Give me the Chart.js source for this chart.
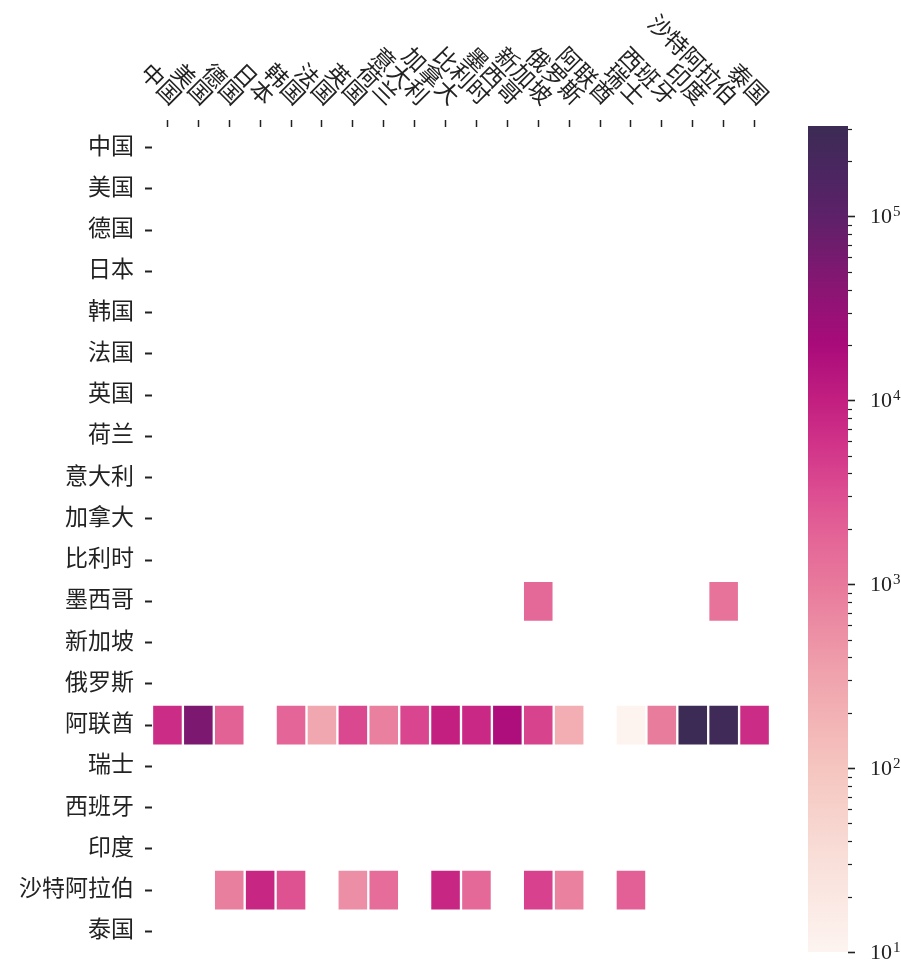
<!DOCTYPE html>
<html>
<head>
<meta charset="utf-8">
<script src="https://cdn.jsdelivr.net/npm/chart.js@4.4.0/dist/chart.umd.min.js"></script>
<style>
  html, body { margin: 0; padding: 0; background: #fff; }
  #wrap { position: relative; width: 901px; height: 964px; }
  #wrap canvas { position: absolute; left: 0; top: 0; }
</style>
</head>
<body>
<div id="wrap">
  <canvas id="heat" width="901" height="964"></canvas>
  <canvas id="cbar" width="901" height="964"></canvas>
</div>
<script>
// Countries used for both axes (rows = exporter, columns = partner)
const countries = ['中国', '美国', '德国', '日本', '韩国', '法国', '英国', '荷兰', '意大利', '加拿大',
  '比利时', '墨西哥', '新加坡', '俄罗斯', '阿联酋', '瑞士', '西班牙', '印度', '沙特阿拉伯', '泰国'];

// Row values by partner column; null = no flow recorded
const mexicoRow = [null, null, null, null, null, null, null, null, null, null,
  null, null, 1600, null, null, null, null, null, 1200, null];
const uaeRow = [7000, 52000, 1900, null, 1800, 280, 3500, 830, 3800, 10000,
  7500, 18000, 4000, 220, null, 10, 930, 310000, 265000, 7000];
const saudiRow = [null, null, 850, 8300, 2800, null, 560, 1400, null, 8300,
  1600, null, 4200, 800, null, 2000, null, null, null, null];

// Colour bar major tick exponents (10^k)
const colorbarExponents = [1, 2, 3, 4, 5];

const filledRows = [['墨西哥', mexicoRow], ['阿联酋', uaeRow], ['沙特阿拉伯', saudiRow]];

const allValues = filledRows.flatMap(([, r]) => r).filter(v => v != null);
const vmin = Math.min(...allValues);
const vmax = Math.max(...allValues);
const lmin = Math.log10(vmin), lmax = Math.log10(vmax);

// Sequential colour map, positions as fraction of the log range
const cmapStops = [
  [0.000, '#fdf4f0'], [0.111, '#f9dfd9'], [0.223, '#f5c5bf'], [0.334, '#f0a3ad'],
  [0.445, '#e8799c'], [0.501, '#e46597'], [0.557, '#dc4d91'], [0.612, '#d13489'],
  [0.668, '#c21f80'], [0.735, '#a90b7a'], [0.802, '#8a1573'], [0.891, '#5d2169'],
  [0.947, '#4a2660'], [1.000, '#3c2b54']
];

function hexToRgb(h) {
  const n = parseInt(h.slice(1), 16);
  return [(n >> 16) & 255, (n >> 8) & 255, n & 255];
}
function colorFor(v) {
  let t = (Math.log10(v) - lmin) / (lmax - lmin);
  t = Math.max(0, Math.min(1, t));
  for (let i = 1; i < cmapStops.length; i++) {
    const [t1, c1] = cmapStops[i];
    const [t0, c0] = cmapStops[i - 1];
    if (t <= t1) {
      const f = (t - t0) / (t1 - t0 || 1);
      const a = hexToRgb(c0), b = hexToRgb(c1);
      const m = a.map((x, k) => Math.round(x + (b[k] - x) * f));
      return `rgb(${m[0]},${m[1]},${m[2]})`;
    }
  }
  return cmapStops[cmapStops.length - 1][1];
}

const serifFamily = '"Liberation Serif", "DejaVu Serif", "Noto Sans CJK SC", serif';
Chart.defaults.font.family = serifFamily;
Chart.defaults.color = '#222';

// Heat map cells: one floating-bar dataset per row, spanning [row, row + 1]
const heatDatasets = filledRows.map(([name, vals]) => {
  const r = countries.indexOf(name);
  return {
    label: name,
    data: vals.map(v => (v == null ? null : [r, r + 1])),
    backgroundColor: vals.map(v => (v == null ? 'rgba(0,0,0,0)' : colorFor(v))),
    borderColor: '#ffffff',
    borderWidth: 1.5,
    borderSkipped: false,
    grouped: false,
    barPercentage: 1,
    categoryPercentage: 1
  };
});

// Rotated column labels above the top axis
const topLabels = {
  id: 'topLabels',
  afterDraw(chart) {
    const { ctx } = chart;
    const x = chart.scales.x;
    ctx.save();
    ctx.font = '23px ' + serifFamily;
    ctx.fillStyle = '#222';
    ctx.textAlign = 'right';
    ctx.textBaseline = 'bottom';
    countries.forEach((name, i) => {
      const px = x.getPixelForTick(i);
      ctx.save();
      ctx.translate(px, x.top - 10);
      ctx.rotate(Math.PI / 4);
      ctx.fillText(name, 0, 0);
      ctx.restore();
    });
    ctx.restore();
  }
};

new Chart(document.getElementById('heat'), {
  type: 'bar',
  data: { labels: countries, datasets: heatDatasets },
  options: {
    responsive: false,
    animation: false,
    events: [],
    layout: { padding: { top: 120, right: 131, bottom: 12, left: 0 } },
    plugins: { legend: { display: false }, tooltip: { enabled: false } },
    scales: {
      x: {
        type: 'category',
        position: 'top',
        offset: true,
        grid: { display: true, offset: false, drawOnChartArea: false, drawTicks: true,
                tickLength: 7, tickWidth: 1.5, tickColor: '#222' },
        border: { display: false },
        ticks: { display: false }
      },
      y: {
        type: 'linear',
        reverse: true,
        min: 0,
        max: countries.length,
        afterBuildTicks: s => { s.ticks = countries.map((_, i) => ({ value: i + 0.5 })); },
        afterFit: s => { s.width = 152; s.paddingTop = 0; s.paddingBottom = 0; },
        grid: { display: true, drawOnChartArea: false, drawTicks: true,
                tickLength: 7, tickWidth: 2, tickColor: '#222' },
        border: { display: false },
        ticks: {
          autoSkip: false,
          padding: 11,
          color: '#222',
          font: { size: 23 },
          callback: v => countries[Math.floor(v)]
        }
      }
    }
  },
  plugins: [topLabels]
});

// Colour bar: a single floating bar on a log axis filled with the colour map
function barGradient(chart) {
  const a = chart.chartArea;
  if (!a) return colorFor(vmin);
  const y = chart.scales.y;
  const g = chart.ctx.createLinearGradient(0, y.getPixelForValue(vmin), 0, y.getPixelForValue(vmax));
  cmapStops.forEach(([t, c]) => g.addColorStop(t, c));
  return g;
}

// Tick marks (major and minor) and 10^k labels beside the colour bar
const cbarTicks = {
  id: 'cbarTicks',
  afterDraw(chart) {
    const { ctx } = chart;
    const y = chart.scales.y;
    const x0 = chart.chartArea.right;
    ctx.save();
    ctx.strokeStyle = '#222';
    ctx.fillStyle = '#222';
    y.ticks.forEach(t => {
      const lg = Math.log10(t.value);
      const k = Math.round(lg);
      const major = colorbarExponents.includes(k) && Math.abs(lg - k) < 1e-9;
      const py = Math.round(y.getPixelForValue(t.value)) + 0.5;
      ctx.lineWidth = major ? 1.6 : 1.2;
      ctx.beginPath();
      ctx.moveTo(x0, py);
      ctx.lineTo(x0 + (major ? 7 : 4), py);
      ctx.stroke();
      if (major) {
        ctx.font = '22px ' + serifFamily;
        ctx.textAlign = 'left';
        ctx.textBaseline = 'middle';
        const lx = x0 + 22;
        ctx.fillText('10', lx, py + 1);
        const w = ctx.measureText('10').width;
        ctx.font = '15px ' + serifFamily;
        ctx.textBaseline = 'top';
        ctx.fillText(String(k), lx + w + 1, py - 12);
      }
    });
    ctx.restore();
  }
};

new Chart(document.getElementById('cbar'), {
  type: 'bar',
  data: {
    labels: ['值'],
    datasets: [{
      data: [[vmin, vmax]],
      backgroundColor: ctx => barGradient(ctx.chart),
      borderWidth: 0,
      barPercentage: 1,
      categoryPercentage: 1
    }]
  },
  options: {
    responsive: false,
    animation: false,
    events: [],
    layout: { padding: { left: 808, top: 126, bottom: 12, right: 0 } },
    plugins: { legend: { display: false }, tooltip: { enabled: false } },
    scales: {
      x: { display: false },
      y: {
        type: 'logarithmic',
        position: 'right',
        min: vmin,
        max: vmax,
        afterBuildTicks: s => {
          const list = [];
          for (let k = 1; k <= 5; k++) {
            for (let m = 1; m <= 9; m++) {
              const v = m * Math.pow(10, k);
              if (v >= vmin && v <= vmax) list.push({ value: v });
            }
          }
          s.ticks = list;
        },
        afterFit: s => { s.width = 53; s.paddingTop = 0; s.paddingBottom = 0; },
        grid: { display: false, drawTicks: false },
        border: { display: false },
        ticks: { display: false, autoSkip: false }
      }
    }
  },
  plugins: [cbarTicks]
});
</script>
</body>
</html>
